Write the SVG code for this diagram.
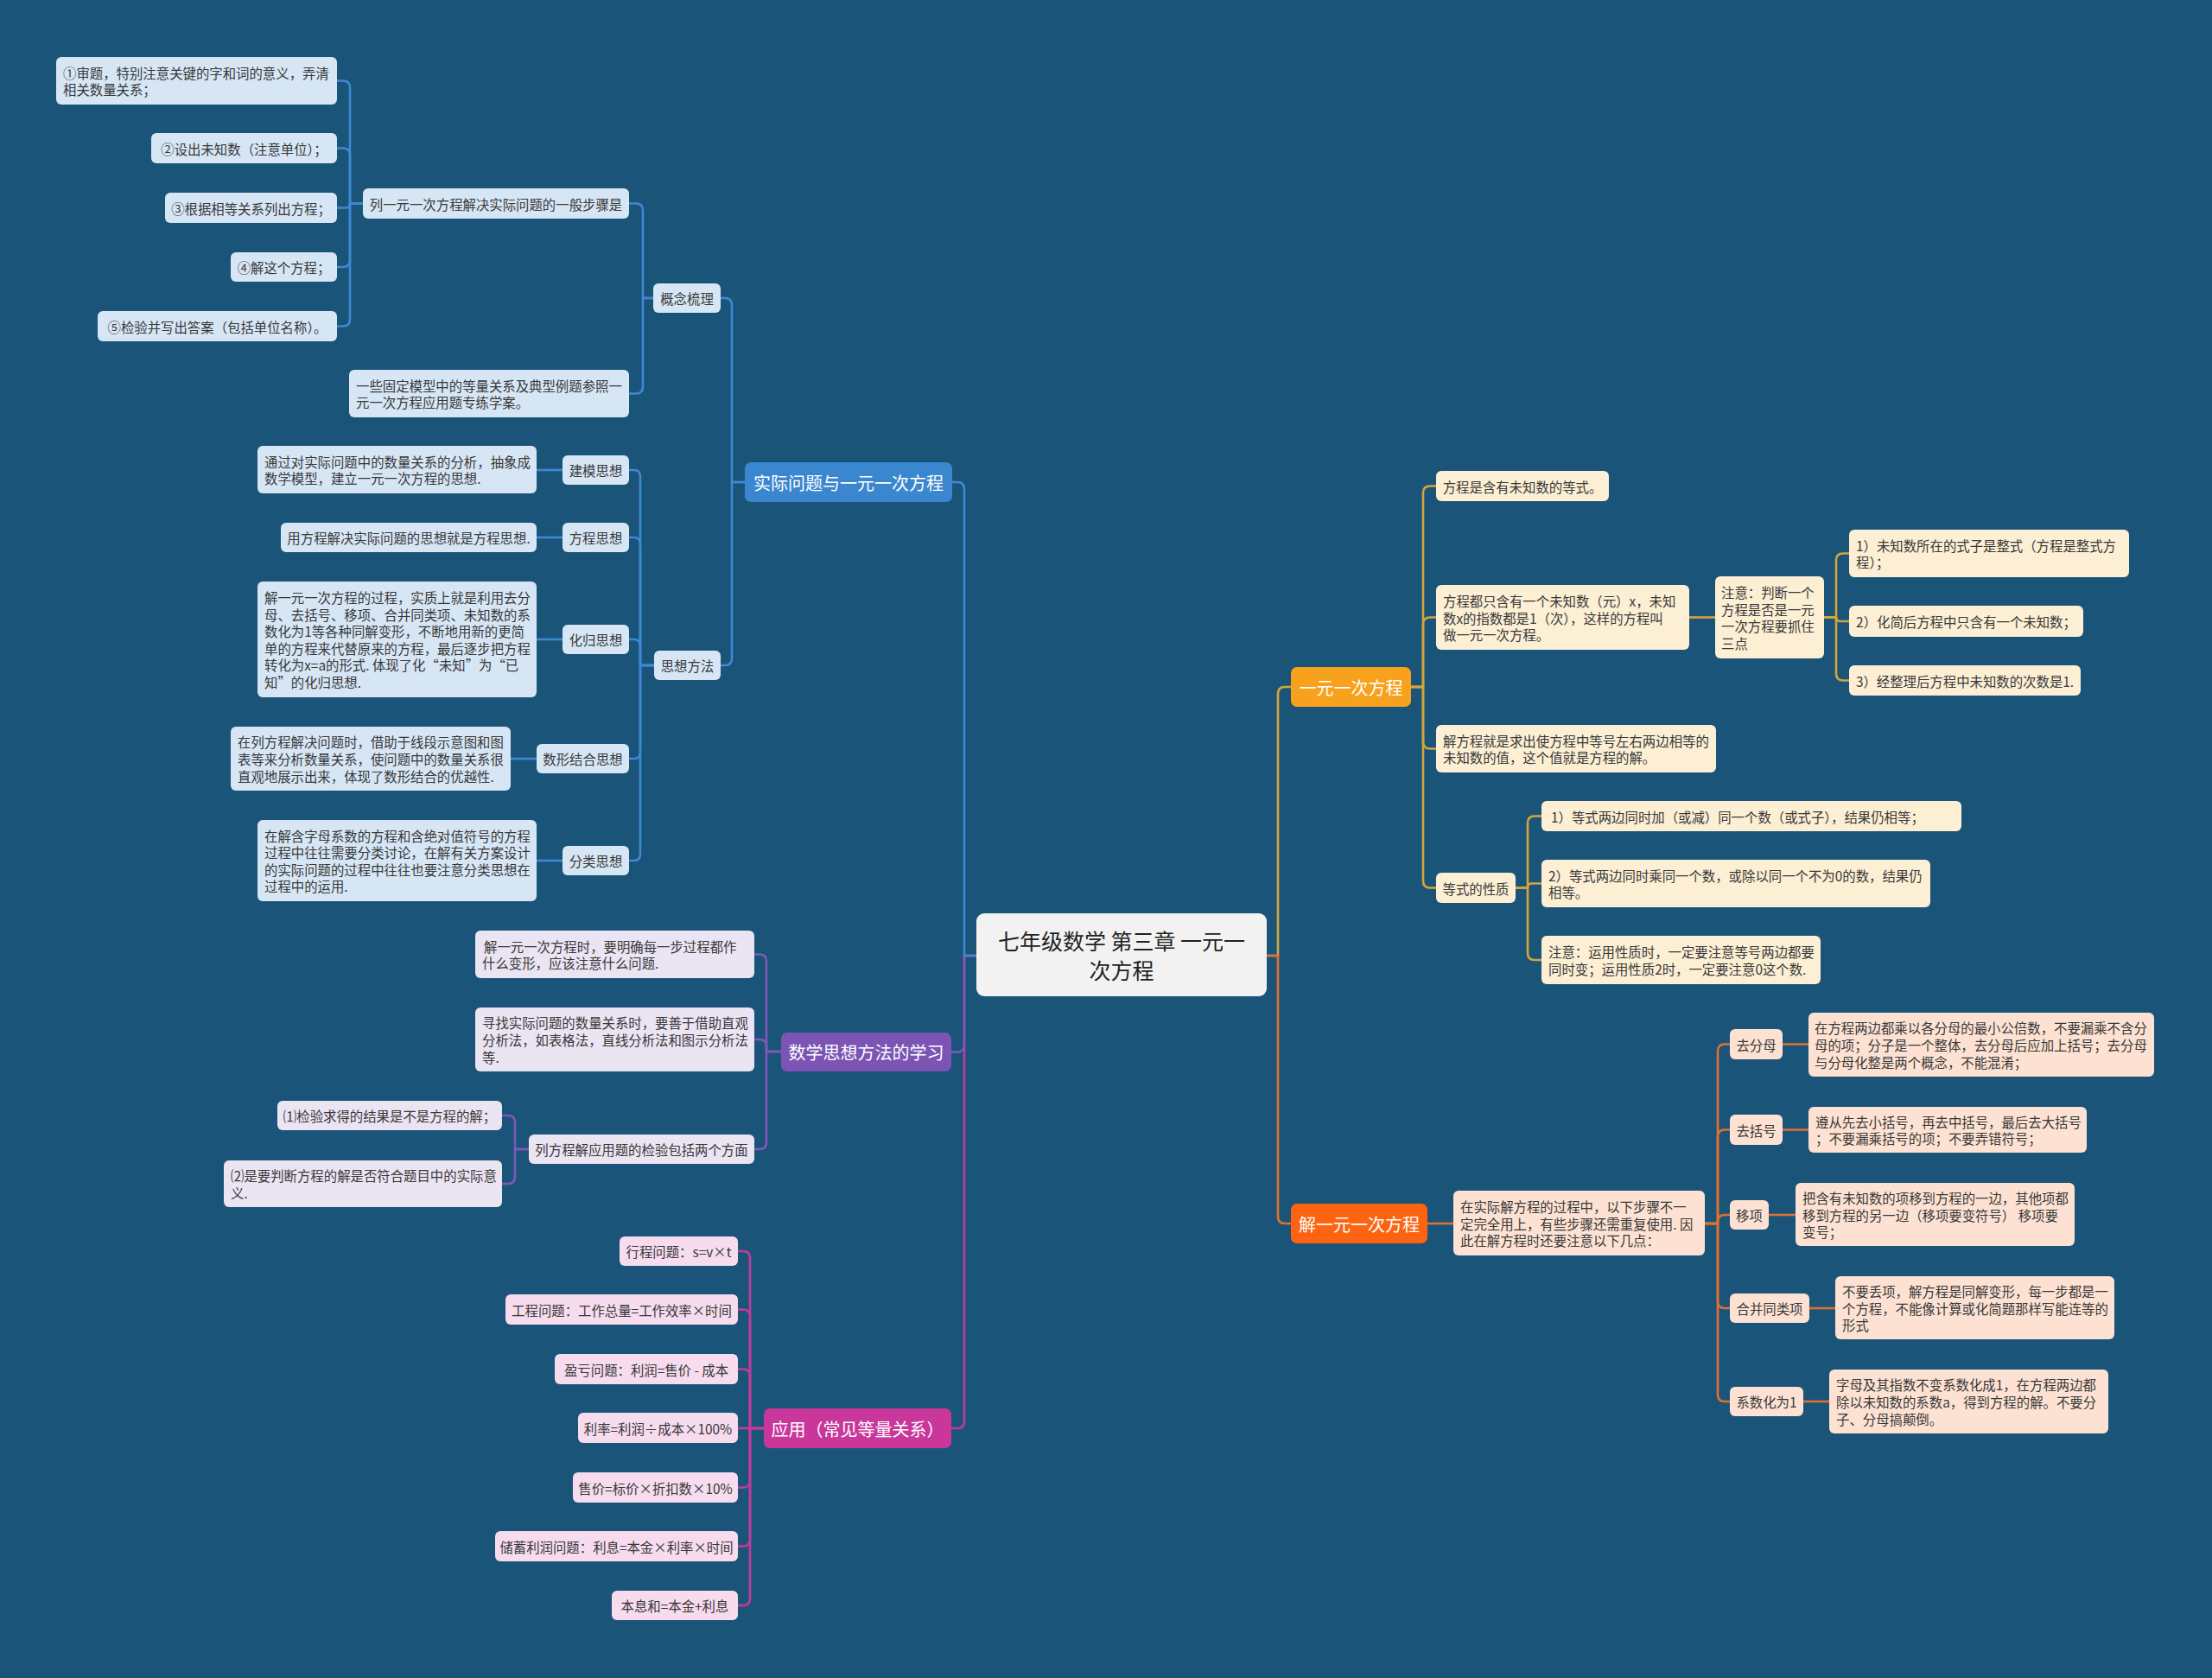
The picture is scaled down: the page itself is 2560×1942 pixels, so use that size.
<svg xmlns="http://www.w3.org/2000/svg" width="2560" height="1942" viewBox="0 0 2560 1942">
<style>
text{font-family:"Noto Sans CJK SC","Noto Sans",sans-serif;dominant-baseline:central}
.t{font-size:15.4px;fill:#383838}
.c{text-anchor:middle}
.m{font-size:20px;fill:#ffffff;text-anchor:middle}
.cb{fill:#d6e6f5}.cp{fill:#ebe4f3}.cm{fill:#f6dcee}.cy{fill:#fcefd4}.co{fill:#fde2d3}
.lk path{fill:none;stroke-width:2.6;stroke-linejoin:round}
.lb path{stroke:#3e89d3}.lp path{stroke:#7f58ba}.lm path{stroke:#c33a9b}.ly path{stroke:#d4a53b}.lo path{stroke:#e0702f}
</style>
<rect width="2560" height="1942" fill="#1b5479"/>
<g id="connectors" class="lk">
<g class="lm">
<path d="M1130,1106 H1116 V1645 Q1116,1653 1108,1653 H1101"/>
<path d="M884,1653 H868 V1456 Q868,1448 860,1448 H854"/>
<path d="M884,1653 H868 V1523.5 Q868,1515.5 860,1515.5 H854"/>
<path d="M884,1653 H868 V1592.5 Q868,1584.5 860,1584.5 H854"/>
<path d="M884,1653 H854"/>
<path d="M884,1653 H868 V1713.5 Q868,1721.5 860,1721.5 H854"/>
<path d="M884,1653 H868 V1781.5 Q868,1789.5 860,1789.5 H854"/>
<path d="M884,1653 H868 V1850 Q868,1858 860,1858 H854"/>
</g>
<g class="lp">
<path d="M1130,1106 H1116 V1209.5 Q1116,1217.5 1108,1217.5 H1101"/>
<path d="M904,1217 H887 V1112.5 Q887,1104.5 879,1104.5 H873"/>
<path d="M904,1217 H887 V1211 Q887,1203 879,1203 H873"/>
<path d="M904,1217 H887 V1322 Q887,1330 879,1330 H873"/>
<path d="M612,1330 H596 V1299 Q596,1291 588,1291 H581"/>
<path d="M612,1330 H596 V1362 Q596,1370 588,1370 H581"/>
</g>
<g class="lb">
<path d="M1130,1106 H1116 V566 Q1116,558 1108,558 H1102"/>
<path d="M862,558 H847 V353 Q847,345 839,345 H834"/>
<path d="M862,558 H847 V762 Q847,770 839,770 H834"/>
<path d="M756,345 H744 V243.5 Q744,235.5 736,235.5 H728"/>
<path d="M756,345 H744 V447.5 Q744,455.5 736,455.5 H728"/>
<path d="M420,235.5 H405 V101.5 Q405,93.5 397,93.5 H390"/>
<path d="M420,235.5 H405 V179.5 Q405,171.5 397,171.5 H390"/>
<path d="M420,235.5 H405 V236 Q405,240.5 400.5,240.5 H390"/>
<path d="M420,235.5 H405 V301 Q405,309 397,309 H390"/>
<path d="M420,235.5 H405 V369.5 Q405,377.5 397,377.5 H390"/>
<path d="M757,770 H741 V552 Q741,544 734,544 H728"/>
<path d="M757,770 H741 V630 Q741,622 734,622 H728"/>
<path d="M757,770 H741 V748 Q741,740 734,740 H728"/>
<path d="M757,770 H741 V870 Q741,878 734,878 H728"/>
<path d="M757,770 H741 V988 Q741,996 734,996 H728"/>
<path d="M651,544 H621"/>
<path d="M651,622 H621"/>
<path d="M651,740 H621"/>
<path d="M621,878 H591"/>
<path d="M651,996 H621"/>
</g>
<g class="ly">
<path d="M1466,1106 H1479 V803 Q1479,795 1487,795 H1494"/>
<path d="M1633,795 H1647 V570.5 Q1647,562.5 1655,562.5 H1662"/>
<path d="M1633,795 H1647 V722.5 Q1647,714.5 1655,714.5 H1662"/>
<path d="M1633,795 H1647 V858.5 Q1647,866.5 1655,866.5 H1662"/>
<path d="M1633,795 H1647 V1019.5 Q1647,1027.5 1655,1027.5 H1662"/>
<path d="M1955,714.5 H1985"/>
<path d="M2111,714.5 H2125 V648.5 Q2125,640.5 2133,640.5 H2140"/>
<path d="M2111,714.5 H2125 V714.5 Q2125,719 2130,719 H2140"/>
<path d="M2111,714.5 H2125 V779.5 Q2125,787.5 2133,787.5 H2140"/>
<path d="M1754,1027.5 H1768 V952.5 Q1768,944.5 1776,944.5 H1784"/>
<path d="M1754,1027.5 H1768 V1027 Q1768,1022.5 1773,1022.5 H1784"/>
<path d="M1754,1027.5 H1768 V1103 Q1768,1111 1776,1111 H1784"/>
</g>
<g class="lo">
<path d="M1466,1106 H1479 V1408 Q1479,1416 1487,1416 H1494"/>
<path d="M1652,1416 H1682"/>
<path d="M1973,1416 H1988 V1216.5 Q1988,1208.5 1996,1208.5 H2002"/>
<path d="M1973,1416 H1988 V1315.5 Q1988,1307.5 1996,1307.5 H2002"/>
<path d="M1973,1416 H1988 V1414 Q1988,1406 1996,1406 H2002"/>
<path d="M1973,1416 H1988 V1506 Q1988,1514 1996,1514 H2002"/>
<path d="M1973,1416 H1988 V1614 Q1988,1622 1996,1622 H2002"/>
<path d="M2063,1208.5 H2093"/>
<path d="M2063,1307.5 H2093"/>
<path d="M2047,1406 H2078"/>
<path d="M2094,1514 H2124"/>
<path d="M2087,1622 H2117"/>
</g>
</g>

<g id="n-root"><rect x="1130" y="1057" width="336" height="96" rx="9" fill="#f2f2f2"/>
<text style="font-size:25px;fill:#222;text-anchor:middle"><tspan x="1298" y="1088">七年级数学 第三章 一元一</tspan><tspan x="1298" y="1122">次方程</tspan></text></g>

<g id="n-b1"><rect x="862" y="535" width="240" height="46" rx="7" fill="#3a87d0"/><text class="m" x="982" y="558">实际问题与一元一次方程</text></g>
<g id="n-gn"><rect class="cb" x="756" y="328" width="78" height="34" rx="6"/><text class="t c" x="795" y="345">概念梳理</text></g>
<g id="n-steps"><rect class="cb" x="420" y="218" width="308" height="35" rx="6"/><text class="t c" x="574" y="235.5">列一元一次方程解决实际问题的一般步骤是</text></g>
<g id="n-s1"><rect class="cb" x="65" y="66" width="325" height="55" rx="6"/><text class="t"><tspan x="73" y="83.7">①审题，特别注意关键的字和词的意义，弄清</tspan><tspan x="73" y="103.3">相关数量关系；</tspan></text></g>
<g id="n-s2"><rect class="cb" x="175" y="154" width="215" height="35" rx="6"/><text class="t c" x="282.5" y="171.5">②设出未知数（注意单位）；</text></g>
<g id="n-s3"><rect class="cb" x="191" y="223" width="199" height="35" rx="6"/><text class="t c" x="290.5" y="240.5">③根据相等关系列出方程；</text></g>
<g id="n-s4"><rect class="cb" x="267" y="292" width="123" height="34" rx="6"/><text class="t c" x="328.5" y="309">④解这个方程；</text></g>
<g id="n-s5"><rect class="cb" x="113" y="360" width="277" height="35" rx="6"/><text class="t c" x="251.5" y="377.5">⑤检验并写出答案（包括单位名称）。</text></g>
<g id="n-model"><rect class="cb" x="404" y="428" width="324" height="55" rx="6"/><text class="t"><tspan x="412" y="445.7">一些固定模型中的等量关系及典型例题参照一</tspan><tspan x="412" y="465.3">元一次方程应用题专练学案。</tspan></text></g>
<g id="n-sx"><rect class="cb" x="757" y="753" width="77" height="34" rx="6"/><text class="t c" x="795.5" y="770">思想方法</text></g>
<g id="n-jm"><rect class="cb" x="651" y="527" width="77" height="34" rx="6"/><text class="t c" x="689.5" y="544">建模思想</text></g>
<g id="n-jm-d"><rect class="cb" x="298" y="516" width="323" height="55" rx="6"/><text class="t"><tspan x="306" y="533.7">通过对实际问题中的数量关系的分析，抽象成</tspan><tspan x="306" y="553.3">数学模型，建立一元一次方程的思想.</tspan></text></g>
<g id="n-fc"><rect class="cb" x="651" y="605" width="77" height="34" rx="6"/><text class="t c" x="689.5" y="622">方程思想</text></g>
<g id="n-fc-d"><rect class="cb" x="325" y="605" width="296" height="34" rx="6"/><text class="t c" x="473" y="622">用方程解决实际问题的思想就是方程思想.</text></g>
<g id="n-hg"><rect class="cb" x="651" y="723" width="77" height="34" rx="6"/><text class="t c" x="689.5" y="740">化归思想</text></g>
<g id="n-hg-d"><rect class="cb" x="298" y="673" width="323" height="134" rx="6"/><text class="t"><tspan x="306" y="691">解一元一次方程的过程，实质上就是利用去分</tspan><tspan x="306" y="710.6">母、去括号、移项、合并同类项、未知数的系</tspan><tspan x="306" y="730.2">数化为1等各种同解变形，不断地用新的更简</tspan><tspan x="306" y="749.8">单的方程来代替原来的方程，最后逐步把方程</tspan><tspan x="306" y="769.4">转化为x=a的形式. 体现了化“未知”为“已</tspan><tspan x="306" y="789">知”的化归思想.</tspan></text></g>
<g id="n-sxjh"><rect class="cb" x="621" y="861" width="107" height="34" rx="6"/><text class="t c" x="674.5" y="878">数形结合思想</text></g>
<g id="n-sxjh-d"><rect class="cb" x="267" y="841" width="324" height="74" rx="6"/><text class="t"><tspan x="275" y="858.4">在列方程解决问题时，借助于线段示意图和图</tspan><tspan x="275" y="878">表等来分析数量关系，使问题中的数量关系很</tspan><tspan x="275" y="897.6">直观地展示出来，体现了数形结合的优越性.</tspan></text></g>
<g id="n-fl"><rect class="cb" x="651" y="979" width="77" height="34" rx="6"/><text class="t c" x="689.5" y="996">分类思想</text></g>
<g id="n-fl-d"><rect class="cb" x="298" y="949" width="323" height="94" rx="6"/><text class="t"><tspan x="306" y="966.6">在解含字母系数的方程和含绝对值符号的方程</tspan><tspan x="306" y="986.2">过程中往往需要分类讨论，在解有关方案设计</tspan><tspan x="306" y="1005.8">的实际问题的过程中往往也要注意分类思想在</tspan><tspan x="306" y="1025.4">过程中的运用.</tspan></text></g>

<g id="n-p1"><rect x="904" y="1195" width="197" height="45" rx="7" fill="#7b54b4"/><text class="m" x="1002.5" y="1217.5">数学思想方法的学习</text></g>
<g id="n-p1a"><rect class="cp" x="550" y="1077" width="323" height="55" rx="6"/><text class="t"><tspan x="560" y="1094.7">解一元一次方程时，要明确每一步过程都作</tspan><tspan x="558" y="1114.3">什么变形，应该注意什么问题.</tspan></text></g>
<g id="n-p1b"><rect class="cp" x="550" y="1166" width="323" height="74" rx="6"/><text class="t"><tspan x="558" y="1183.4">寻找实际问题的数量关系时，要善于借助直观</tspan><tspan x="558" y="1203">分析法，如表格法，直线分析法和图示分析法</tspan><tspan x="558" y="1222.6">等.</tspan></text></g>
<g id="n-p1c"><rect class="cp" x="612" y="1313" width="261" height="34" rx="6"/><text class="t c" x="742.5" y="1330">列方程解应用题的检验包括两个方面</text></g>
<g id="n-p1c1"><rect class="cp" x="321" y="1274" width="260" height="34" rx="6"/><text class="t c" x="451" y="1291">⑴检验求得的结果是不是方程的解；</text></g>
<g id="n-p1c2"><rect class="cp" x="259" y="1343" width="322" height="54" rx="6"/><text class="t"><tspan x="267" y="1360.2">⑵是要判断方程的解是否符合题目中的实际意</tspan><tspan x="267" y="1379.8">义.</tspan></text></g>

<g id="n-m1"><rect x="884" y="1630" width="217" height="46" rx="7" fill="#c9379b"/><text class="m" x="992.5" y="1653">应用（常见等量关系）</text></g>
<g id="n-m1a"><rect class="cm" x="717" y="1431" width="137" height="34" rx="6"/><text class="t c" x="785.5" y="1448">行程问题：s=v×t</text></g>
<g id="n-m1b"><rect class="cm" x="585" y="1498" width="269" height="35" rx="6"/><text class="t c" x="719.5" y="1515.5">工程问题：工作总量=工作效率×时间</text></g>
<g id="n-m1c"><rect class="cm" x="642" y="1567" width="212" height="35" rx="6"/><text class="t c" x="748" y="1584.5">盈亏问题：利润=售价 - 成本</text></g>
<g id="n-m1d"><rect class="cm" x="669" y="1635" width="185" height="35" rx="6"/><text class="t c" x="761.5" y="1652.5">利率=利润÷成本×100%</text></g>
<g id="n-m1e"><rect class="cm" x="663" y="1704" width="191" height="35" rx="6"/><text class="t c" x="758.5" y="1721.5">售价=标价×折扣数×10%</text></g>
<g id="n-m1f"><rect class="cm" x="573" y="1772" width="281" height="35" rx="6"/><text class="t c" x="713.5" y="1789.5">储蓄利润问题：利息=本金×利率×时间</text></g>
<g id="n-m1g"><rect class="cm" x="708" y="1841" width="146" height="34" rx="6"/><text class="t c" x="781" y="1858">本息和=本金+利息</text></g>

<g id="n-y1"><rect x="1494" y="772" width="139" height="46" rx="7" fill="#f8a11c"/><text class="m" x="1563.5" y="795">一元一次方程</text></g>
<g id="n-y1a"><rect class="cy" x="1662" y="545" width="200" height="35" rx="6"/><text class="t c" x="1762" y="562.5">方程是含有未知数的等式。</text></g>
<g id="n-y1b"><rect class="cy" x="1662" y="677" width="293" height="75" rx="6"/><text class="t"><tspan x="1670" y="694.9">方程都只含有一个未知数（元）x，未知</tspan><tspan x="1670" y="714.5">数x的指数都是1（次），这样的方程叫</tspan><tspan x="1670" y="734.1">做一元一次方程。</tspan></text></g>
<g id="n-y1b1"><rect class="cy" x="1985" y="667" width="126" height="95" rx="6"/><text class="t"><tspan x="1992" y="685.1">注意：判断一个</tspan><tspan x="1992" y="704.7">方程是否是一元</tspan><tspan x="1992" y="724.3">一次方程要抓住</tspan><tspan x="1992" y="743.9">三点</tspan></text></g>
<g id="n-y1b1a"><rect class="cy" x="2140" y="613" width="324" height="55" rx="6"/><text class="t"><tspan x="2148" y="630.7">1）未知数所在的式子是整式（方程是整式方</tspan><tspan x="2148" y="650.3">程）；</tspan></text></g>
<g id="n-y1b1b"><rect class="cy" x="2140" y="701" width="271" height="36" rx="6"/><text class="t c" x="2275.5" y="719">2）化简后方程中只含有一个未知数；</text></g>
<g id="n-y1b1c"><rect class="cy" x="2140" y="770" width="268" height="35" rx="6"/><text class="t c" x="2274" y="787.5">3）经整理后方程中未知数的次数是1.</text></g>
<g id="n-y1c"><rect class="cy" x="1662" y="839" width="324" height="55" rx="6"/><text class="t"><tspan x="1670" y="856.7">解方程就是求出使方程中等号左右两边相等的</tspan><tspan x="1670" y="876.3">未知数的值，这个值就是方程的解。</tspan></text></g>
<g id="n-y1d"><rect class="cy" x="1662" y="1010" width="92" height="35" rx="6"/><text class="t c" x="1708" y="1027.5">等式的性质</text></g>
<g id="n-y1d1"><rect class="cy" x="1784" y="927" width="486" height="35" rx="6"/><text class="t" x="1795" y="944.5">1）等式两边同时加（或减）同一个数（或式子），结果仍相等；</text></g>
<g id="n-y1d2"><rect class="cy" x="1784" y="995" width="450" height="55" rx="6"/><text class="t"><tspan x="1792" y="1012.7">2）等式两边同时乘同一个数，或除以同一个不为0的数，结果仍</tspan><tspan x="1792" y="1032.3">相等。</tspan></text></g>
<g id="n-y1d3"><rect class="cy" x="1784" y="1083" width="323" height="56" rx="6"/><text class="t"><tspan x="1792" y="1101.2">注意：运用性质时，一定要注意等号两边都要</tspan><tspan x="1792" y="1120.8">同时变；运用性质2时，一定要注意0这个数.</tspan></text></g>

<g id="n-o1"><rect x="1494" y="1393" width="158" height="46" rx="7" fill="#fd6412"/><text class="m" x="1573" y="1416">解一元一次方程</text></g>
<g id="n-o1a"><rect class="co" x="1682" y="1378" width="291" height="75" rx="6"/><text class="t"><tspan x="1690" y="1396.1">在实际解方程的过程中，以下步骤不一</tspan><tspan x="1690" y="1415.7">定完全用上，有些步骤还需重复使用. 因</tspan><tspan x="1690" y="1435.3">此在解方程时还要注意以下几点：</tspan></text></g>
<g id="n-qfm"><rect class="co" x="2002" y="1191" width="61" height="35" rx="6"/><text class="t c" x="2032.5" y="1208.5">去分母</text></g>
<g id="n-qfm-d"><rect class="co" x="2093" y="1172" width="400" height="74" rx="6"/><text class="t"><tspan x="2100" y="1189.4">在方程两边都乘以各分母的最小公倍数，不要漏乘不含分</tspan><tspan x="2100" y="1209">母的项；分子是一个整体，去分母后应加上括号；去分母</tspan><tspan x="2100" y="1228.6">与分母化整是两个概念，不能混淆；</tspan></text></g>
<g id="n-qkh"><rect class="co" x="2002" y="1290" width="61" height="35" rx="6"/><text class="t c" x="2032.5" y="1307.5">去括号</text></g>
<g id="n-qkh-d"><rect class="co" x="2093" y="1281" width="322" height="53" rx="6"/><text class="t"><tspan x="2101" y="1297.7">遵从先去小括号，再去中括号，最后去大括号</tspan><tspan x="2101" y="1317.3">；不要漏乘括号的项；不要弄错符号；</tspan></text></g>
<g id="n-yx"><rect class="co" x="2002" y="1389" width="45" height="34" rx="6"/><text class="t c" x="2024.5" y="1406">移项</text></g>
<g id="n-yx-d"><rect class="co" x="2078" y="1369" width="323" height="73" rx="6"/><text class="t"><tspan x="2086" y="1385.9">把含有未知数的项移到方程的一边，其他项都</tspan><tspan x="2086" y="1405.5">移到方程的另一边（移项要变符号） 移项要</tspan><tspan x="2086" y="1425.1">变号；</tspan></text></g>
<g id="n-hb"><rect class="co" x="2002" y="1497" width="92" height="34" rx="6"/><text class="t c" x="2048" y="1514">合并同类项</text></g>
<g id="n-hb-d"><rect class="co" x="2124" y="1477" width="323" height="73" rx="6"/><text class="t"><tspan x="2132" y="1493.9">不要丢项，解方程是同解变形，每一步都是一</tspan><tspan x="2132" y="1513.5">个方程，不能像计算或化简题那样写能连等的</tspan><tspan x="2132" y="1533.1">形式</tspan></text></g>
<g id="n-xs"><rect class="co" x="2002" y="1605" width="85" height="34" rx="6"/><text class="t c" x="2044.5" y="1622">系数化为1</text></g>
<g id="n-xs-d"><rect class="co" x="2117" y="1585" width="323" height="74" rx="6"/><text class="t"><tspan x="2125" y="1602.4">字母及其指数不变系数化成1，在方程两边都</tspan><tspan x="2125" y="1622">除以未知数的系数a，得到方程的解。不要分</tspan><tspan x="2125" y="1641.6">子、分母搞颠倒。</tspan></text></g>
</svg>
